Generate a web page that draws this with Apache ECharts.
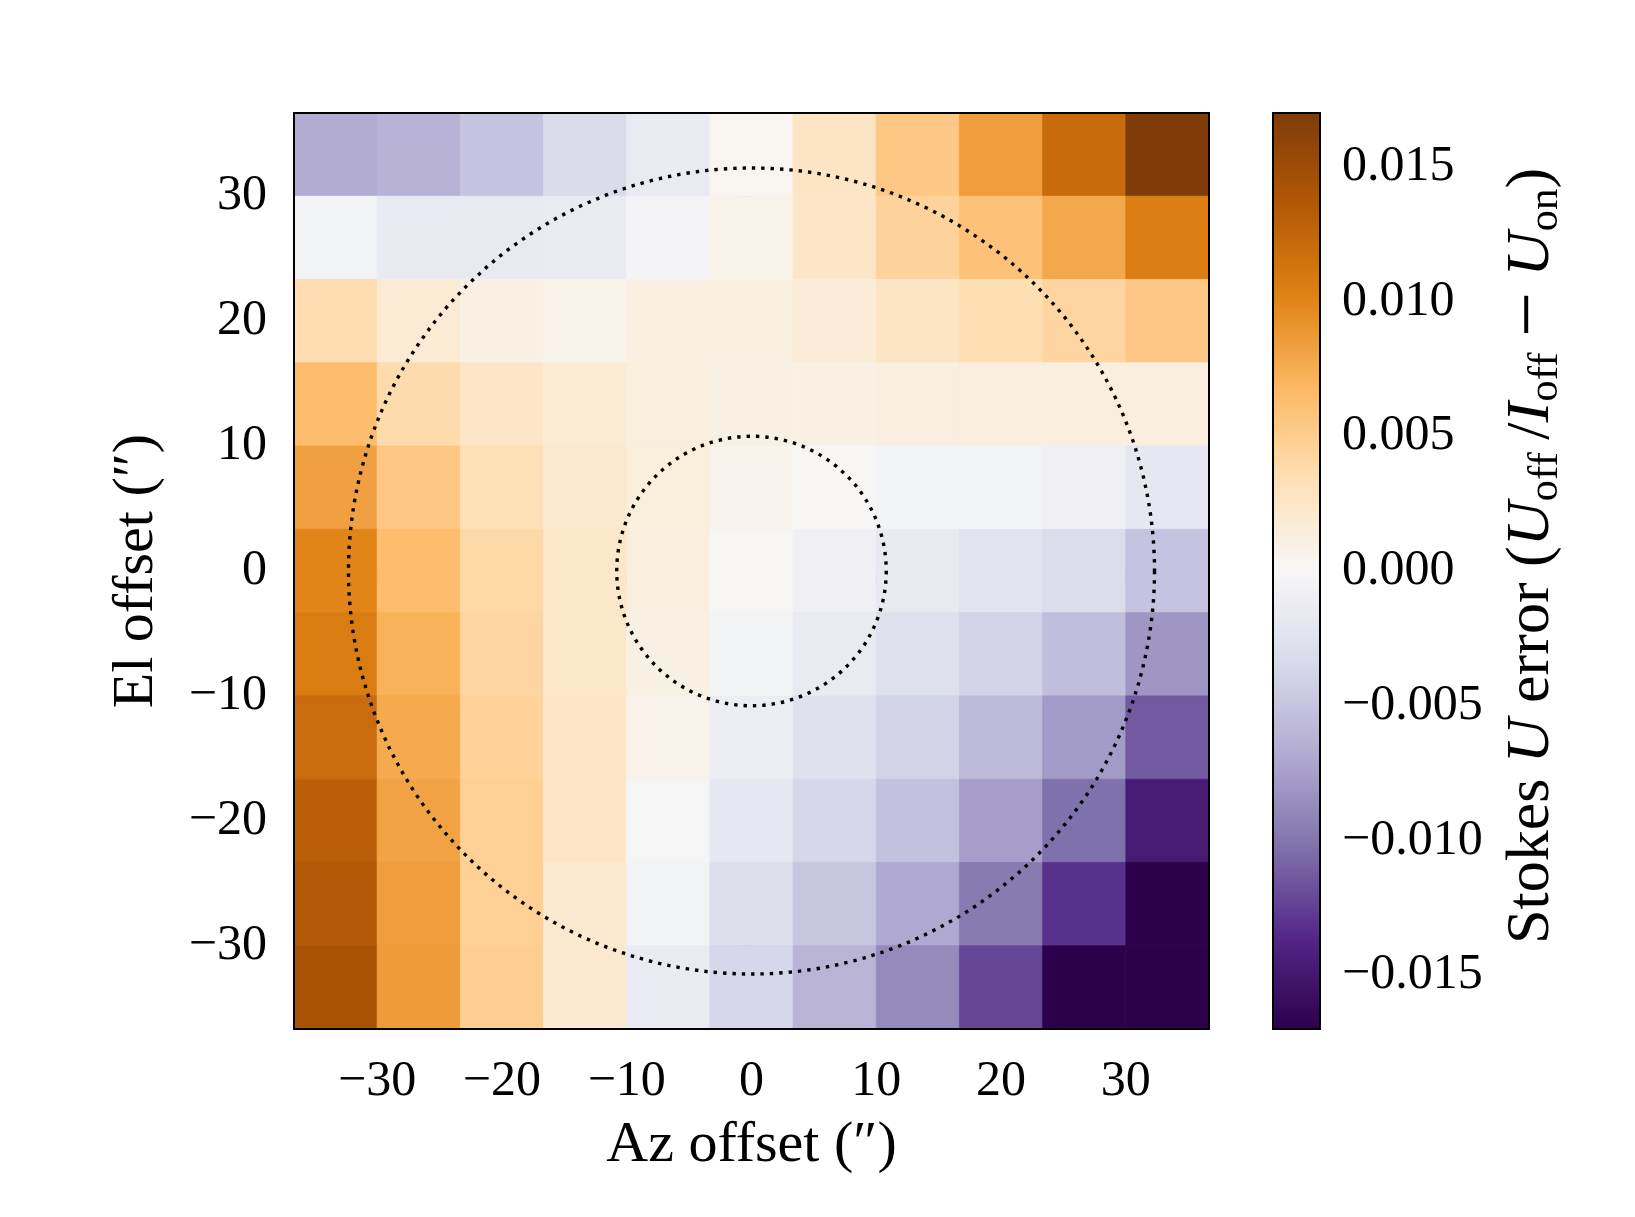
<!DOCTYPE html>
<html>
<head>
<meta charset="utf-8">
<script src="https://cdn.jsdelivr.net/npm/echarts@6/dist/echarts.min.js"></script>
<style>
html,body{margin:0;padding:0;background:#fff;}
#chart{width:1635px;height:1217px;}
</style>
</head>
<body>
<div id="chart"></div>
<script>
// Cell centres (arcsec)
const azCenters = [-33.333, -26.667, -20, -13.333, -6.667, 0, 6.667, 13.333, 20, 26.667, 33.333];
const elCenters = [33.333, 26.667, 20, 13.333, 6.667, 0, -6.667, -13.333, -20, -26.667, -33.333];
const cellSize = 6.6667;

// Stokes U error per row (top row El=+33.3 first), columns Az -33.3 ... +33.3
const uErrEl_p33 = [-0.0068, -0.0063, -0.0051, -0.0032, -0.0015, 0.0004, 0.0027, 0.0054, 0.0085, 0.0121, 0.0170];
const uErrEl_p27 = [-0.0005, -0.0017, -0.0016, -0.0014, -0.0003, 0.0008, 0.0025, 0.0045, 0.0060, 0.0078, 0.0106];
const uErrEl_p20 = [0.0037, 0.0018, 0.0010, 0.0007, 0.0011, 0.0012, 0.0017, 0.0026, 0.0035, 0.0043, 0.0054];
const uErrEl_p13 = [0.0064, 0.0038, 0.0025, 0.0018, 0.0013, 0.0010, 0.0010, 0.0012, 0.0013, 0.0013, 0.0013];
const uErrEl_p07 = [0.0083, 0.0055, 0.0034, 0.0021, 0.0014, 0.0006, 0.0001, -0.0004, -0.0005, -0.0009, -0.0019];
const uErrEl_00  = [0.0100, 0.0064, 0.0040, 0.0024, 0.0013, 0.0001, -0.0009, -0.0017, -0.0023, -0.0031, -0.0051];
const uErrEl_m07 = [0.0107, 0.0072, 0.0043, 0.0024, 0.0010, -0.0005, -0.0014, -0.0027, -0.0039, -0.0055, -0.0081];
const uErrEl_m13 = [0.0120, 0.0077, 0.0046, 0.0025, 0.0007, -0.0011, -0.0026, -0.0039, -0.0057, -0.0078, -0.0113];
const uErrEl_m20 = [0.0131, 0.0082, 0.0048, 0.0025, -0.0002, -0.0019, -0.0036, -0.0052, -0.0076, -0.0103, -0.0147];
const uErrEl_m27 = [0.0135, 0.0085, 0.0048, 0.0021, -0.0005, -0.0028, -0.0049, -0.0070, -0.0097, -0.0132, -0.0170];
const uErrEl_m33 = [0.0143, 0.0086, 0.0049, 0.0021, -0.0014, -0.0036, -0.0062, -0.0088, -0.0122, -0.0170, -0.0170];

// Dotted beam circles (radius in arcsec)
const circleRadii = [10.8, 32.3];

// Ticks
const azTicks = [-30, -20, -10, 0, 10, 20, 30];
const elTicks = [-30, -20, -10, 0, 10, 20, 30];
const cbarTicks = [-0.015, -0.010, -0.005, 0.000, 0.005, 0.010, 0.015];
const cMin = -0.017, cMax = 0.017;

// PuOr_r colormap
const puorR = ['#2d004b','#542788','#8073ac','#b2abd2','#d8daeb','#f7f7f7','#fee0b6','#fdb863','#e08214','#b35806','#7f3b08'];

const rows = [uErrEl_p33, uErrEl_p27, uErrEl_p20, uErrEl_p13, uErrEl_p07, uErrEl_00, uErrEl_m07, uErrEl_m13, uErrEl_m20, uErrEl_m27, uErrEl_m33];
const cells = [];
rows.forEach((row, r) => row.forEach((v, c) => cells.push([azCenters[c], elCenters[r], v])));
const circles = circleRadii.map(r => [0, 0, r]);

const FONT = 'Liberation Serif';
const minus = v => (Math.abs(v) < 1e-12 ? '0' : (v < 0 ? '\u2212' + Math.abs(v) : String(v)));
const cbFmt = v => (Math.abs(v) < 1e-12 ? '0.000' : (v < 0 ? '\u2212' : '') + Math.abs(v).toFixed(3));
const half = cellSize / 2;
const xMin = azCenters[0] - half, xMax = azCenters[azCenters.length - 1] + half;
const yMin = elCenters[elCenters.length - 1] - half, yMax = elCenters[0] + half;

const chart = echarts.init(document.getElementById('chart'), null, {renderer: 'canvas'});
const axisCommon = {
  axisLine: {show: false},
  splitLine: {show: false},
  axisTick: {show: true, inside: false, length: 13, lineStyle: {color: '#000', width: 2}},
};
chart.setOption({
  backgroundColor: '#fff',
  animation: false,
  grid: [
    {left: 294, top: 113, width: 915, height: 916, show: true, borderColor: '#000', borderWidth: 2, backgroundColor: 'transparent', z: 10},
    {left: 1273, top: 113, width: 47, height: 916, show: true, borderColor: '#000', borderWidth: 2, backgroundColor: 'transparent', z: 10}
  ],
  xAxis: [
    Object.assign({}, axisCommon, {
      type: 'value', gridIndex: 0, min: xMin, max: xMax,
      axisTick: Object.assign({}, axisCommon.axisTick, {customValues: azTicks}),
      axisLabel: {customValues: azTicks, formatter: minus, fontFamily: FONT, fontSize: 50, color: '#000', margin: 28},
      name: 'Az offset (\u2033)', nameLocation: 'middle', nameGap: 88,
      nameTextStyle: {fontFamily: FONT, fontSize: 58, color: '#000'}
    }),
    {type: 'value', gridIndex: 1, min: 0, max: 1, show: false}
  ],
  yAxis: [
    Object.assign({}, axisCommon, {
      type: 'value', gridIndex: 0, min: yMin, max: yMax,
      axisTick: Object.assign({}, axisCommon.axisTick, {customValues: elTicks}),
      axisLabel: {customValues: elTicks, formatter: minus, fontFamily: FONT, fontSize: 50, color: '#000', margin: 27},
      name: 'El offset (\u2033)', nameLocation: 'middle', nameGap: 128, nameRotate: 90,
      nameTextStyle: {fontFamily: FONT, fontSize: 58, color: '#000'}
    }),
    Object.assign({}, axisCommon, {
      type: 'value', gridIndex: 1, position: 'right', min: cMin, max: cMax,
      axisTick: Object.assign({}, axisCommon.axisTick, {customValues: cbarTicks}),
      axisLabel: {customValues: cbarTicks, formatter: cbFmt, fontFamily: FONT, fontSize: 50, color: '#000', margin: 22},
      name: '{r|Stokes }{i|U}{r| error (}{i|U}{s|off}{r|\u2009/}{i|I}{s|off}{r| }{m|\u2212}{r| }{i|U}{s|on}{r|)}',
      nameLocation: 'middle', nameGap: 177, nameRotate: 90,
      nameTextStyle: {
        fontFamily: FONT, fontSize: 62, color: '#000', padding: [0, 0, 0, 30],
        rich: {
          r: {fontFamily: FONT, fontSize: 62, color: '#000', lineHeight: 70},
          i: {fontFamily: FONT, fontSize: 62, fontStyle: 'italic', color: '#000', lineHeight: 70},
          m: {fontFamily: FONT, fontSize: 80, color: '#000', lineHeight: 70},
          s: {fontFamily: FONT, fontSize: 43, color: '#000', lineHeight: 47, verticalAlign: 'bottom'}
        }
      }
    })
  ],
  visualMap: {
    type: 'continuous', seriesIndex: 0, dimension: 2, min: cMin, max: cMax,
    calculable: false, hoverLink: false, orient: 'vertical',
    left: 1273, top: 113, itemWidth: 47, itemHeight: 916, padding: 0,
    inRange: {color: puorR}
  },
  series: [
    {
      type: 'custom', xAxisIndex: 0, yAxisIndex: 0, data: cells,
      encode: {x: 0, y: 1}, silent: true, clip: true,
      renderItem: function (params, api) {
        const x = api.value(0), y = api.value(1);
        const p0 = api.coord([x - half, y + half]);
        const p1 = api.coord([x + half, y - half]);
        const col = api.visual('color');
        return {type: 'rect', shape: {x: p0[0], y: p0[1], width: p1[0] - p0[0], height: p1[1] - p0[1]},
                style: {fill: col, stroke: col, lineWidth: 0.8}};
      }
    },
    {
      type: 'custom', xAxisIndex: 0, yAxisIndex: 0, data: circles, z: 5,
      encode: {x: 0, y: 1}, silent: true,
      renderItem: function (params, api) {
        const c = api.coord([api.value(0), api.value(1)]);
        const r = api.size([api.value(2), 0])[0];
        return {type: 'circle', shape: {cx: c[0], cy: c[1], r: r},
                style: {fill: 'none', stroke: '#000', lineWidth: 3.4, lineDash: [3.4, 6.0], lineCap: 'butt'}};
      }
    }
  ]
});
</script>
</body>
</html>
